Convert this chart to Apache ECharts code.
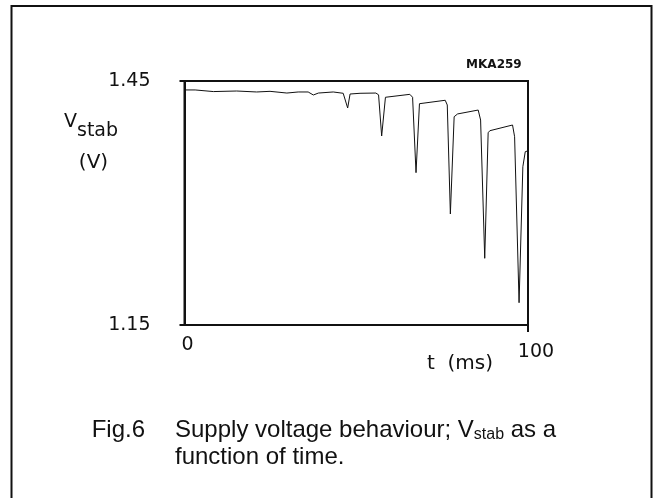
<!DOCTYPE html>
<html>
<head>
<meta charset="utf-8">
<script src="https://cdn.jsdelivr.net/npm/echarts@6/dist/echarts.min.js"></script>
<style>
html,body{margin:0;padding:0;background:#fff;}
#chart{width:653px;height:498px;}
</style>
</head>
<body>
<div id="chart"></div>
<script>
// time in ms
var times = [0.4, 3.1, 8.4, 15.2, 21.0, 24.9, 29.8, 33.1, 36.0, 37.5, 39.0, 43.3, 46.2, 47.5, 48.2, 51.1, 55.7, 56.5, 57.4, 58.5, 65.6, 66.4, 67.4, 68.4, 75.9, 76.5, 77.4, 78.5, 79.5, 85.5, 86.2, 87.4, 88.4, 88.9, 95.5, 96.1, 97.4, 98.5, 99.2, 99.9];
// Vstab in V
var volts = [1.439, 1.439, 1.437, 1.4377, 1.4365, 1.4373, 1.4352, 1.4365, 1.4365, 1.4328, 1.4352, 1.4365, 1.4349, 1.4168, 1.434, 1.4349, 1.4352, 1.433, 1.3824, 1.430, 1.4336, 1.430, 1.3373, 1.4221, 1.4263, 1.4205, 1.2865, 1.4061, 1.4095, 1.4143, 1.402, 1.232, 1.3864, 1.3889, 1.3959, 1.3815, 1.1774, 1.3446, 1.3631, 1.364];
var xTicks = [0, 100];
var yTicks = [1.15, 1.45];

var axisFont = 'DejaVu Sans';
var capFont = 'Liberation Sans';
var data = times.map(function (t, i) { return [t, volts[i]]; });

var chart = echarts.init(document.getElementById('chart'), null, {renderer: 'canvas'});
chart.setOption({
  animation: false,
  backgroundColor: '#fff',
  grid: {
    left: 184.5, top: 81, width: 343.5, height: 244,
    show: true, borderColor: '#111', borderWidth: 2, backgroundColor: 'transparent'
  },
  xAxis: {
    type: 'value', min: xTicks[0], max: xTicks[1],
    axisLine: {show: true, onZero: false, lineStyle: {color: '#111', width: 2}},
    axisTick: {show: true, customValues: [xTicks[1]], length: 7, lineStyle: {color: '#111', width: 2}},
    splitLine: {show: false},
    axisLabel: {
      customValues: xTicks, margin: 11, color: '#111',
      fontFamily: axisFont, fontSize: 19,
      formatter: function (v) { return v === 0 ? '{a|0}' : '{b|100}'; },
      rich: {
        a: {fontFamily: axisFont, fontSize: 19, color: '#111', padding: [0, 0, 0, 6]},
        b: {fontFamily: axisFont, fontSize: 19, color: '#111', padding: [7, 0, 0, 16]}
      }
    }
  },
  yAxis: {
    type: 'value', min: yTicks[0], max: yTicks[1],
    axisLine: {show: true, onZero: false, lineStyle: {color: '#111', width: 2}},
    axisTick: {show: true, customValues: yTicks, length: 5, lineStyle: {color: '#111', width: 2}},
    splitLine: {show: false},
    axisLabel: {
      customValues: yTicks, margin: 34, color: '#111',
      fontFamily: axisFont, fontSize: 19, padding: [0, 0, 9, 0],
      formatter: function (v) { return v.toFixed(2); }
    }
  },
  series: [{
    type: 'line', data: data, showSymbol: false, symbol: 'none',
    lineStyle: {color: '#111', width: 1}, clip: true, silent: true
  }],
  graphic: [
    {type: 'rect', shape: {x: 11.5, y: 6, width: 640, height: 510}, style: {fill: 'none', stroke: '#111', lineWidth: 2}, silent: true},
    {type: 'text', style: {x: 521.7, y: 65, text: 'MKA259', textAlign: 'right', textVerticalAlign: 'middle', font: 'bold 12px "DejaVu Sans"', fill: '#111'}},
    {type: 'text', style: {x: 64, y: 127, textVerticalAlign: 'middle', text: '{v|V}{s|stab}', fill: '#111',
      rich: {
        v: {fontFamily: axisFont, fontSize: 19, fill: '#111', padding: [0, 0, 9, 0]},
        s: {fontFamily: axisFont, fontSize: 19, fill: '#111', padding: [9, 0, 0, 0]}
      }}},
    {type: 'text', style: {x: 93.5, y: 163, text: '(V)', textAlign: 'center', textVerticalAlign: 'middle', font: '20px "DejaVu Sans"', fill: '#111'}},
    {type: 'text', style: {x: 460, y: 364, text: 't  (ms)', textAlign: 'center', textVerticalAlign: 'middle', font: '20px "DejaVu Sans"', fill: '#111'}},
    {type: 'text', style: {x: 91.7, y: 430, text: 'Fig.6', textAlign: 'left', textVerticalAlign: 'middle', font: '24px "Liberation Sans"', fill: '#111'}},
    {type: 'text', style: {x: 175, y: 443.5, textVerticalAlign: 'middle',
      text: '{n|Supply voltage behaviour; V}{s|stab}{n| as a}\n{n|function of time.}',
      rich: {
        n: {fontFamily: capFont, fontSize: 24, fill: '#111', lineHeight: 27},
        s: {fontFamily: capFont, fontSize: 16, fill: '#111', lineHeight: 27, padding: [10, 0, 0, 0]}
      }}}
  ]
});
</script>
</body>
</html>
